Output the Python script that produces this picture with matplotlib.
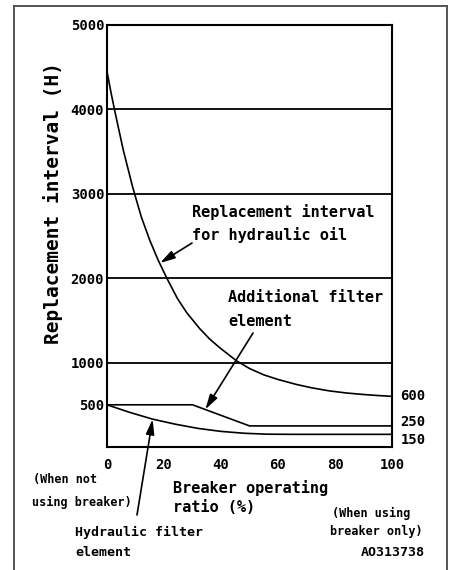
import matplotlib
matplotlib.use("Agg")
import matplotlib.pyplot as plt
from matplotlib.lines import Line2D

# Breaker operating ratio (%) and replacement intervals (hours)
ratio_oil = [0, 1.4, 2.8, 5.7, 9, 12, 15, 18, 21, 24.7, 28, 32.6, 36, 39.6, 45.5,
             50, 55, 60, 66.6, 72, 78, 84, 90, 95, 100]
oil_interval = [4450, 4200, 3970, 3520, 3080, 2730, 2450, 2210, 2000, 1760, 1590, 1400, 1280, 1175, 1020,
                930, 855, 800, 740, 700, 665, 640, 622, 610, 600]

ratio_add = [0, 30, 50, 100]
add_filter = [500, 500, 250, 250]

ratio_hyd = [0, 8, 16, 24, 32, 40, 48, 56, 65, 100]
hyd_filter = [500, 410, 330, 270, 220, 185, 163, 152, 150, 150]

x_ticks = [0, 20, 40, 60, 80, 100]
y_ticks = [500, 1000, 2000, 3000, 4000, 5000]
grid_levels = [1000, 2000, 3000, 4000]
end_labels = ["600", "250", "150"]

W, H = 453, 570
FONT = "DejaVu Sans Mono"


def fp(x, y):
    """Figure-pixel position (from top-left) to figure fraction."""
    return x / W, 1 - y / H


fig = plt.figure(figsize=(W / 100, H / 100), dpi=100)
fig.patch.set_facecolor("white")

# outer frame (open at the bottom)
frame_col = "#555555"
for xs, ys in [((14.5, 14.5), (570, 5.5)), ((14.5, 447), (5.5, 5.5)), ((447, 447), (5.5, 570))]:
    fx = [x / W for x in xs]
    fy = [1 - y / H for y in ys]
    fig.add_artist(Line2D(fx, fy, color=frame_col, lw=1.4, transform=fig.transFigure))

left, right, top, bottom = 107, 392, 25, 447
ax = fig.add_axes([left / W, 1 - bottom / H, (right - left) / W, (bottom - top) / H])
ax.set_xlim(0, 100)
ax.set_ylim(0, 5000)

for s in ax.spines.values():
    s.set_linewidth(1.5)
    s.set_color("black")

for g in grid_levels:
    ax.axhline(g, color="black", lw=1.3, zorder=1)

ax.plot(ratio_oil, oil_interval, color="black", lw=1.2, zorder=2)
ax.plot(ratio_add, add_filter, color="black", lw=1.2, zorder=2)
ax.plot(ratio_hyd, hyd_filter, color="black", lw=1.2, zorder=2)

ax.set_xticks(x_ticks)
ax.set_xticklabels([str(v) for v in x_ticks])
ax.set_yticks(y_ticks)
ax.set_yticklabels([str(v) for v in y_ticks])
ax.tick_params(axis="both", length=0)
ax.tick_params(axis="x", pad=8)
ax.tick_params(axis="y", pad=2)
for lab in ax.get_xticklabels() + ax.get_yticklabels():
    lab.set_fontfamily(FONT)
    lab.set_fontweight("bold")
    lab.set_fontsize(10)

# values at the right end of each line
end_vals = [oil_interval[-1], add_filter[-1], hyd_filter[-1]]
end_offsets = [0, 3, -4]
for txt, v, off in zip(end_labels, end_vals, end_offsets):
    ax.annotate(txt, xy=(100, v), xytext=(6, off), textcoords="offset points",
                ha="left", va="center", fontsize=10, fontweight="bold", family=FONT)

# axis title (vertical)
fig.text(*fp(53, 203), "Replacement interval (H)", rotation=90, ha="center", va="center",
         fontsize=14, fontweight="bold", family=FONT)


def label(x, y, s, size=11, ha="left"):
    fig.text(*fp(x, y), s, ha=ha, va="center", fontsize=size, fontweight="bold", family=FONT)


label(192, 212, "Replacement interval")
label(192, 235, "for hydraulic oil")
label(228, 298, "Additional filter")
label(228, 322, "element")
label(33, 480, "(When not", size=8.5)
label(32, 502, "using breaker)", size=8.5)
label(173, 488, "Breaker operating")
label(173, 508, "ratio (%)")
label(75, 532, "Hydraulic filter", size=9.5)
label(75, 552, "element", size=9.5)
label(410, 513, "(When using", size=8.5, ha="right")
label(423, 532, "breaker only)", size=8.5, ha="right")
label(425, 552, "AO313738", size=9.5, ha="right")

arrow = dict(arrowstyle="-|>,head_length=0.9,head_width=0.25", color="black", lw=1.2,
             shrinkA=0, shrinkB=0, mutation_scale=10)
ax.annotate("", xy=(18.6, 2180), xytext=fp(192, 243), textcoords="figure fraction",
            arrowprops=arrow)
ax.annotate("", xy=(34.5, 445), xytext=fp(253, 333), textcoords="figure fraction",
            arrowprops=arrow)
ax.annotate("", xy=(16, 330), xytext=fp(137, 515), textcoords="figure fraction",
            arrowprops=arrow, annotation_clip=False)

fig.savefig("out.png", dpi=100, facecolor="white")
